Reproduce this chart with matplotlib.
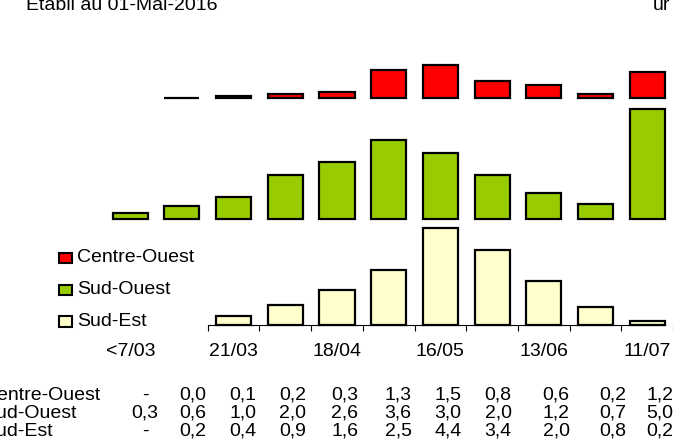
import numpy as np
import matplotlib
matplotlib.use("Agg")
import matplotlib.pyplot as plt
from matplotlib.patches import Rectangle

plt.rcParams['font.family'] = ['Liberation Sans', 'DejaVu Sans']

# data (None = "-")
series = ["Centre-Ouest", "Sud-Ouest", "Sud-Est"]
tick_labels = ["<7/03", "21/03", "18/04", "16/05", "13/06", "11/07"]
centre_ouest = [None, 0.0, 0.1, 0.2, 0.3, 1.3, 1.5, 0.8, 0.6, 0.2, 1.2]
sud_ouest = [0.3, 0.6, 1.0, 2.0, 2.6, 3.6, 3.0, 2.0, 1.2, 0.7, 5.0]
sud_est = [None, 0.2, 0.4, 0.9, 1.6, 2.5, 4.4, 3.4, 2.0, 0.8, 0.2]
colors = ["#FF0000", "#99CC00", "#FFFFCC"]

W, H = 673, 443
FS = 14
# layout in pixels
CAT0, STEP = 131.8, 52.3
UNIT, BASE = 22.0, 325.0
first_axis_cat = 2  # Sud-Est axis starts between cat 1 and 2


def arr(v):
    return np.array([np.nan if a is None else a for a in v], dtype=float)


def fmt(v):
    return "-" if v is None else ("%.1f" % v).replace(".", ",")


co = arr(centre_ouest)
so = arr(sud_ouest)
se = arr(sud_est)
se_drawn = se.copy()
se_drawn[:first_axis_cat] = np.nan

green_base = np.nanmax(se) + 0.4
red_base = green_base + np.nanmax(so) + 0.5

fig = plt.figure(figsize=(W / 100, H / 100), dpi=100)
ax = fig.add_axes([0, 0, 1, 1])
ax.set_xlim((0 - CAT0) / STEP, (W - CAT0) / STEP)
ax.set_ylim((BASE - H) / UNIT, BASE / UNIT)

x = np.arange(len(sud_ouest))
bw = 35.5 / STEP
kw = dict(edgecolor="black", linewidth=1.6, joinstyle="miter")
ax.bar(x, se_drawn, bw, bottom=0, color=colors[2], **kw)
ax.bar(x, so, bw, bottom=green_base, color=colors[1], **kw)
ax.bar(x, co, bw, bottom=red_base, color=colors[0], **kw)

for s in ["left", "right", "top"]:
    ax.spines[s].set_visible(False)
ax.spines["bottom"].set_position(("data", 0))
ax.spines["bottom"].set_bounds(first_axis_cat - 0.5, (W - CAT0) / STEP)
ax.spines["bottom"].set_linewidth(0.8)
ax.set_yticks([])
ax.set_xticks(x[::2])
ax.set_xticklabels(tick_labels, fontsize=FS)
ax.set_xticks(np.arange(first_axis_cat - 0.5, len(x), 1), minor=True)
ax.tick_params(axis="x", which="major", length=0, pad=13)
ax.tick_params(axis="x", which="minor", length=4, width=0.8, direction="out")
ax.patch.set_visible(False)


def ftext(px, py, s, **kw):
    fig.text(px / W, 1 - py / H, s, fontsize=FS, **kw)


# title (cut at top)
ftext(26, 10, "Etabli au 01-Mai-2016", va="baseline")
ftext(670, 10, "ur", va="baseline", ha="right")

# legend
for i, (name, c) in enumerate(zip(series, colors)):
    yc = 258 + i * 31.8
    fig.add_artist(Rectangle((59.3 / W, 1 - (yc + 5.3) / H), 12.4 / W, 10.6 / H,
                             transform=fig.transFigure, facecolor=c,
                             edgecolor="black", linewidth=1.5))
    ftext(77, yc, name, va="center")

# data table
col_x = [145, 192.5, 243, 293, 345, 398, 448, 498, 556, 613, 660]
rows = [centre_ouest, sud_ouest, sud_est]
for r, (name, vals) in enumerate(zip(series, rows)):
    yc = 395 + r * 18.2
    ftext(-16.5, yc, name, va="center")
    for cx, v in zip(col_x, vals):
        ftext(cx, yc, fmt(v), va="center", ha="center")

fig.savefig("out.png", dpi=100)
